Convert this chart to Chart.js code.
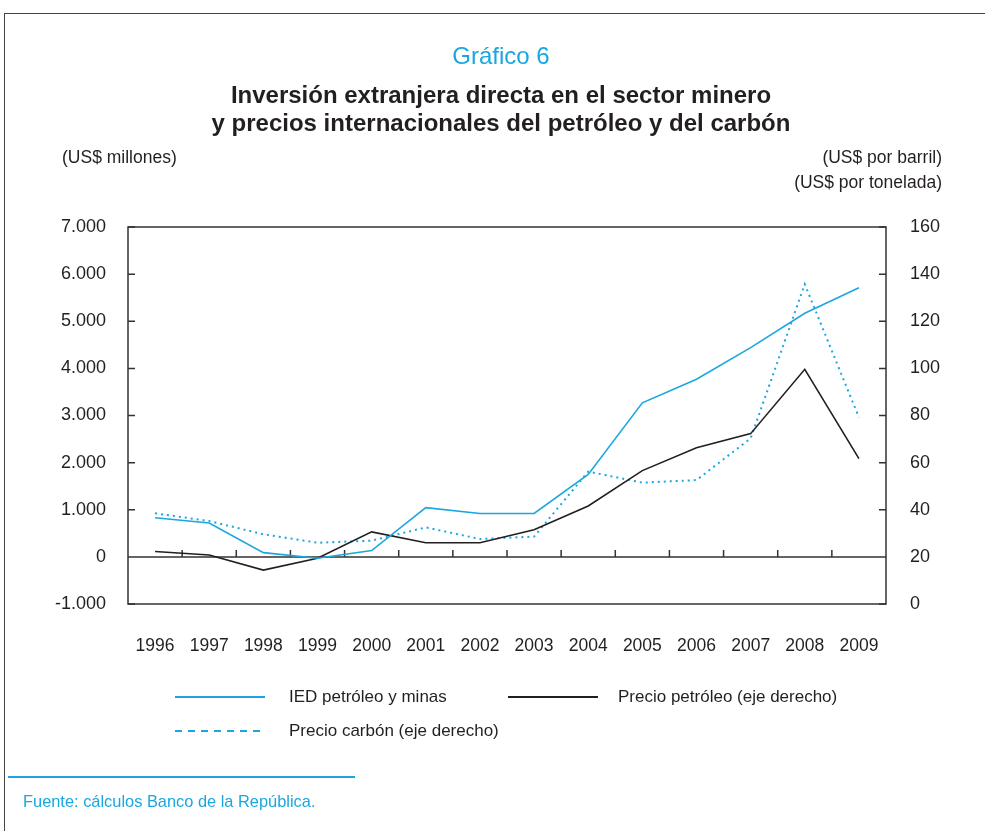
<!DOCTYPE html>
<html>
<head>
<meta charset="utf-8">
<script src="https://cdn.jsdelivr.net/npm/chart.js@4.4.1/dist/chart.umd.min.js"></script>
<style>
  html, body { margin: 0; padding: 0; background: #fff; }
  body { width: 985px; height: 831px; position: relative; overflow: hidden;
         font-family: 'Liberation Sans Narrow', 'Arial Narrow', 'Liberation Sans', sans-serif; color: #231f20; }
  #c { position: absolute; left: 0; top: 0; }
  .t { position: absolute; white-space: nowrap; }
  .frameTop { position: absolute; left: 4px; top: 13px; width: 981px; height: 1px; background: #444; }
  .frameLeft { position: absolute; left: 4px; top: 13px; width: 1px; height: 818px; background: #444; }
  .sep { position: absolute; left: 8px; top: 776px; width: 347px; height: 2px; background: #1aa7e0; }
  .lg { position: absolute; height: 2px; width: 90px; }
</style>
</head>
<body>
<div class="frameTop"></div>
<div class="frameLeft"></div>
<canvas id="c" width="985" height="831"></canvas>

<div class="t" style="left:0;width:1002px;text-align:center;top:44px;font-size:24px;line-height:24px;color:#1aa7e0;">Gráfico 6</div>
<div class="t" style="left:0;width:1002px;text-align:center;top:82px;font-size:24px;line-height:26px;font-weight:bold;">Inversión extranjera directa en el sector minero</div>
<div class="t" style="left:0;width:1002px;text-align:center;top:110px;font-size:24px;line-height:26px;font-weight:bold;">y precios internacionales del petróleo y del carbón</div>
<div class="t" style="left:62px;top:147px;font-size:17.5px;line-height:20px;">(US$ millones)</div>
<div class="t" style="right:43px;top:147px;font-size:17.5px;line-height:20px;text-align:right;">(US$ por barril)</div>
<div class="t" style="right:43px;top:172px;font-size:17.5px;line-height:20px;text-align:right;">(US$ por tonelada)</div>

<div class="lg" style="left:175px;top:696px;background:#1aa7e0;"></div>
<div class="t" style="left:289px;top:687px;font-size:17px;line-height:20px;">IED petróleo y minas</div>
<div class="lg" style="left:508px;top:696px;background:#231f20;"></div>
<div class="t" style="left:618px;top:687px;font-size:17px;line-height:20px;">Precio petróleo (eje derecho)</div>
<div class="lg" style="left:175px;top:730px;background:repeating-linear-gradient(to right,#1aa7e0 0 7px,transparent 7px 13px);"></div>
<div class="t" style="left:289px;top:721px;font-size:17px;line-height:20px;">Precio carbón (eje derecho)</div>

<div class="sep"></div>
<div class="t" style="left:23px;top:792px;font-size:16.4px;line-height:18px;color:#1aa7e0;">Fuente: cálculos Banco de la República.</div>

<script>
// ---- DATA ----
const years = ['1996','1997','1998','1999','2000','2001','2002','2003','2004','2005','2006','2007','2008','2009'];
const iedPetroleoMinas = [830, 720, 90, -30, 135, 1045, 920, 920, 1750, 3270, 3770, 4440, 5170, 5710];
const precioPetroleo = [22.3, 20.8, 14.4, 19.4, 30.6, 26.0, 26.0, 31.5, 41.6, 56.6, 66.3, 72.3, 99.6, 61.7];
const precioCarbon = [38.5, 35.2, 29.6, 26.0, 26.9, 32.5, 27.6, 28.6, 56.2, 51.5, 52.6, 70.3, 135.7, 79.2];
const leftTickValues = [-1000, 0, 1000, 2000, 3000, 4000, 5000, 6000, 7000];
const leftTickLabels = ['-1.000', '0', '1.000', '2.000', '3.000', '4.000', '5.000', '6.000', '7.000'];
const rightTickValues = [0, 20, 40, 60, 80, 100, 120, 140, 160];
const rightTickLabels = ['0', '20', '40', '60', '80', '100', '120', '140', '160'];

const BLUE = '#1aa7e0';
const INK = '#231f20';
const FONT = "'Liberation Sans Narrow', 'Arial Narrow', 'Liberation Sans', sans-serif";

const framePlugin = {
  id: 'frame',
  beforeDatasetsDraw(chart) {
    const { ctx, chartArea: a, scales } = chart;
    ctx.save();
    ctx.strokeStyle = '#333';
    ctx.lineWidth = 1.5;
    ctx.strokeRect(a.left, a.top, a.right - a.left, a.bottom - a.top);
    const y0 = scales.y.getPixelForValue(0);
    ctx.beginPath();
    ctx.moveTo(a.left, y0); ctx.lineTo(a.right, y0);
    leftTickValues.forEach(v => {
      const py = scales.y.getPixelForValue(v);
      ctx.moveTo(a.left, py); ctx.lineTo(a.left + 7, py);
    });
    rightTickValues.forEach(v => {
      const py = scales.y1.getPixelForValue(v);
      ctx.moveTo(a.right, py); ctx.lineTo(a.right - 7, py);
    });
    const xs = scales.x;
    for (let i = 1; i < years.length; i++) {
      const px = (xs.getPixelForValue(i - 1) + xs.getPixelForValue(i)) / 2;
      ctx.moveTo(px, y0); ctx.lineTo(px, y0 - 7);
    }
    ctx.stroke();
    ctx.restore();
  }
};

new Chart(document.getElementById('c'), {
  type: 'line',
  data: {
    labels: years,
    datasets: [
      { label: 'IED petróleo y minas', data: iedPetroleoMinas, yAxisID: 'y',
        borderColor: BLUE, borderWidth: 1.6, pointRadius: 0, tension: 0, fill: false },
      { label: 'Precio petróleo (eje derecho)', data: precioPetroleo, yAxisID: 'y1',
        borderColor: INK, borderWidth: 1.6, pointRadius: 0, tension: 0, fill: false },
      { label: 'Precio carbón (eje derecho)', data: precioCarbon, yAxisID: 'y1',
        borderColor: BLUE, borderWidth: 2, borderDash: [2, 4], pointRadius: 0, tension: 0, fill: false }
    ]
  },
  options: {
    responsive: false,
    animation: false,
    devicePixelRatio: 1,
    layout: { padding: { top: 227, left: 0, right: 0, bottom: 0 } },
    plugins: { legend: { display: false }, title: { display: false }, tooltip: { enabled: false } },
    scales: {
      x: {
        type: 'category', offset: true,
        grid: { display: false, drawTicks: false }, border: { display: false },
        ticks: { color: INK, font: { family: FONT, size: 17.5 }, padding: 32, maxRotation: 0, autoSkip: false },
        afterFit(s) { s.height = 227; }
      },
      y: {
        position: 'left', min: -1000, max: 7000,
        grid: { display: false, drawTicks: false }, border: { display: false },
        afterBuildTicks(s) { s.ticks = leftTickValues.map(v => ({ value: v })); },
        ticks: { color: INK, font: { family: FONT, size: 18 }, padding: 22,
                 callback: v => leftTickLabels[leftTickValues.indexOf(v)] },
        afterFit(s) { s.width = 128; }
      },
      y1: {
        position: 'right', min: 0, max: 160,
        grid: { display: false, drawTicks: false }, border: { display: false },
        afterBuildTicks(s) { s.ticks = rightTickValues.map(v => ({ value: v })); },
        ticks: { color: INK, font: { family: FONT, size: 18 }, padding: 24,
                 callback: v => rightTickLabels[rightTickValues.indexOf(v)] },
        afterFit(s) { s.width = 99; }
      }
    }
  },
  plugins: [framePlugin]
});
</script>
</body>
</html>
